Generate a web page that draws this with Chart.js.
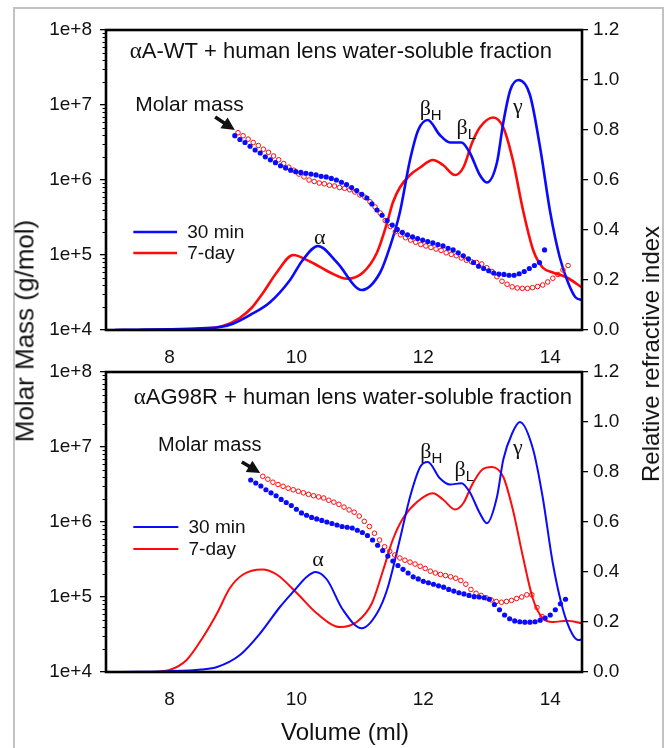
<!DOCTYPE html>
<html>
<head>
<meta charset="utf-8">
<script src="https://cdn.jsdelivr.net/npm/chart.js@4.4.1/dist/chart.umd.min.js"></script>
<style>
  body { margin: 0; background: #fff; width: 671px; height: 748px; overflow: hidden; position: relative;
         font-family: "Liberation Sans", Arial, sans-serif; color: #111; }
  #frame { position: absolute; left: 13px; top: 7px; width: 647px; height: 780px; border: 2px solid #c2c2c2; }
  canvas { position: absolute; left: 0; }
  #topChart { top: 0; }
  #botChart { top: 340px; }
  .axTitle { position: absolute; font-size: 24px; white-space: nowrap; transform: translate(-50%, -50%); }
  .rot { transform: translate(-50%, -50%) rotate(-90deg); }
</style>
</head>
<body>
<div id="frame"></div>
<canvas id="topChart" width="671" height="370"></canvas>
<canvas id="botChart" width="671" height="408"></canvas>
<div class="axTitle rot" style="left:25px; top:331px; font-size:26px">Molar Mass (g/mol)</div>
<div class="axTitle rot" style="left:651px; top:354px">Relative refractive index</div>
<div class="axTitle" style="left:345px; top:732px">Volume (ml)</div>
<script>
var BLUE = "#0a0aff", RED = "#ff0a0a";
var SANS = '"Liberation Sans", Arial, sans-serif';
var SERIF = '"Liberation Serif", "Times New Roman", serif';

// axis ticks
var volTicks = [8, 10, 12, 14];
var massTicks = [1e4, 1e5, 1e6, 1e7, 1e8];
var mmStep = 0.08; // ml between molar mass readings

// ---- top panel: aA-WT ----
// refractive index traces
var topRiVol30 = [7.14, 7.5, 8.0, 8.5, 8.8, 9.0, 9.27, 9.58, 9.9, 10.1, 10.34, 10.64, 11.03, 11.32, 11.47, 11.63, 11.79, 11.92, 12.07, 12.26, 12.42, 12.6, 12.73, 12.89, 13.0, 13.16, 13.26, 13.37, 13.5, 13.68, 13.84, 14.0, 14.15, 14.28, 14.4, 14.5];
var topRi30 = [0, 0.001, 0.003, 0.007, 0.012, 0.025, 0.06, 0.11, 0.2, 0.28, 0.336, 0.27, 0.16, 0.23, 0.33, 0.47, 0.68, 0.8, 0.84, 0.78, 0.75, 0.75, 0.71, 0.62, 0.59, 0.67, 0.83, 0.96, 1.0, 0.94, 0.73, 0.47, 0.29, 0.19, 0.13, 0.12];
var topRiVol7 = [8.04, 8.5, 8.84, 9.1, 9.3, 9.47, 9.69, 9.95, 10.22, 10.53, 10.8, 11.05, 11.27, 11.43, 11.52, 11.63, 11.79, 11.95, 12.15, 12.31, 12.5, 12.63, 12.77, 12.89, 13.1, 13.26, 13.41, 13.57, 13.73, 13.88, 14.04, 14.26, 14.5];
var topRi7 = [0, 0.005, 0.016, 0.047, 0.09, 0.147, 0.23, 0.3, 0.273, 0.23, 0.205, 0.23, 0.31, 0.43, 0.51, 0.57, 0.62, 0.65, 0.68, 0.66, 0.62, 0.65, 0.75, 0.81, 0.85, 0.81, 0.68, 0.48, 0.32, 0.25, 0.23, 0.21, 0.17];
// molar mass (g/mol)
var topMmStart30 = 9.03;
var topMm30 = [3.9e6, 3.47e6, 3.16e6, 2.82e6, 2.51e6, 2.29e6, 2.04e6, 1.86e6, 1.70e6, 1.55e6,
  1.45e6, 1.35e6, 1.29e6, 1.26e6, 1.23e6, 1.20e6, 1.17e6, 1.12e6, 1.10e6, 1.05e6,
  1.00e6, 9.33e5, 8.71e5, 7.94e5, 7.24e5, 6.46e5, 5.75e5, 4.79e5, 3.98e5, 3.39e5,
  2.88e5, 2.51e5, 2.19e5, 2.00e5, 1.86e5, 1.74e5, 1.66e5, 1.58e5, 1.51e5, 1.45e5,
  1.38e5, 1.32e5, 1.23e5, 1.17e5, 1.07e5, 9.77e4, 8.91e4, 7.94e4, 7.08e4, 6.61e4,
  6.17e4, 5.75e4, 5.56e4, 5.50e4, 5.37e4, 5.37e4, 5.62e4, 6.03e4, 6.61e4, 7.24e4,
  7.94e4, 1.17e5];
var topMmStart7 = 9.08;
var topMm7 = [4.27e6, 3.89e6, 3.51e6, 3.16e6, 2.88e6, 2.57e6, 2.34e6, 2.09e6, 1.86e6, 1.66e6,
  1.48e6, 1.35e6, 1.20e6, 1.10e6, 1.00e6, 9.55e5, 9.12e5, 8.91e5, 8.51e5, 8.32e5,
  7.94e5, 7.76e5, 7.41e5, 6.92e5, 6.31e5, 5.89e5, 5.13e5, 4.37e5, 3.63e5, 2.88e5,
  2.40e5, 2.04e5, 1.86e5, 1.70e5, 1.58e5, 1.48e5, 1.38e5, 1.32e5, 1.26e5, 1.20e5,
  1.15e5, 1.07e5, 1.02e5, 9.77e4, 9.12e4, 8.51e4, 8.13e4, 7.94e4, 7.59e4, 6.76e4,
  6.03e4, 5.13e4, 4.47e4, 4.07e4, 3.76e4, 3.63e4, 3.59e4, 3.59e4, 3.67e4, 3.80e4,
  3.98e4, 4.37e4, 4.90e4, 5.50e4, 6.31e4, 7.24e4];

// ---- bottom panel: aAG98R ----
var botRiVol30 = [7.11, 7.5, 8.0, 8.5, 8.75, 9.11, 9.43, 9.74, 9.98, 10.16, 10.3, 10.48, 10.73, 11.03, 11.27, 11.43, 11.63, 11.79, 11.95, 12.07, 12.26, 12.42, 12.6, 12.73, 12.89, 13.0, 13.16, 13.26, 13.4, 13.52, 13.73, 13.88, 14.04, 14.2, 14.34, 14.44, 14.5];
var botRi30 = [0, 0.001, 0.003, 0.01, 0.02, 0.068, 0.155, 0.26, 0.33, 0.38, 0.4, 0.37, 0.25, 0.175, 0.235, 0.33, 0.53, 0.7, 0.82, 0.84, 0.775, 0.75, 0.755, 0.72, 0.635, 0.595, 0.7, 0.85, 0.955, 1.0, 0.89, 0.7, 0.435, 0.25, 0.155, 0.128, 0.13];
var botRiVol7 = [7.72, 8.0, 8.27, 8.53, 8.75, 8.95, 9.16, 9.46, 9.69, 10.01, 10.32, 10.69, 10.95, 11.19, 11.37, 11.52, 11.68, 11.9, 12.15, 12.31, 12.5, 12.63, 12.77, 12.93, 13.08, 13.26, 13.41, 13.57, 13.73, 13.88, 14.04, 14.26, 14.5];
var botRi7 = [0, 0.008, 0.048, 0.14, 0.235, 0.335, 0.39, 0.41, 0.39, 0.315, 0.235, 0.18, 0.2, 0.275, 0.41, 0.53, 0.615, 0.68, 0.715, 0.69, 0.65, 0.675, 0.75, 0.81, 0.82, 0.78, 0.65, 0.46, 0.29, 0.215, 0.2, 0.205, 0.195];
var botMmStart30 = 9.28;
var botMm30 = [3.63e6, 3.31e6, 3.02e6, 2.69e6, 2.45e6, 2.24e6, 2.00e6, 1.82e6, 1.66e6, 1.48e6,
  1.32e6, 1.23e6, 1.15e6, 1.10e6, 1.05e6, 1.00e6, 9.55e5, 9.12e5, 8.71e5, 8.51e5,
  8.32e5, 7.76e5, 7.24e5, 6.61e5, 5.75e5, 4.90e5, 4.17e5, 3.51e5, 3.02e5, 2.63e5,
  2.34e5, 2.09e5, 1.86e5, 1.74e5, 1.62e5, 1.55e5, 1.48e5, 1.41e5, 1.35e5, 1.26e5,
  1.20e5, 1.14e5, 1.10e5, 1.05e5, 1.01e5, 1.00e5, 9.77e4, 9.33e4, 7.94e4, 6.76e4,
  5.75e4, 5.13e4, 4.79e4, 4.68e4, 4.62e4, 4.62e4, 4.68e4, 4.90e4, 5.25e4, 5.75e4,
  6.76e4, 8.13e4, 9.33e4];
var botMmStart7 = 9.47;
var botMm7 = [4.07e6, 3.72e6, 3.39e6, 3.16e6, 2.99e6, 2.82e6, 2.69e6, 2.57e6, 2.45e6, 2.34e6,
  2.24e6, 2.16e6, 2.09e6, 1.95e6, 1.84e6, 1.72e6, 1.58e6, 1.45e6, 1.35e6, 1.20e6,
  1.02e6, 8.71e5, 7.08e5, 5.75e5, 4.68e5, 4.07e5, 3.63e5, 3.31e5, 3.09e5, 2.92e5,
  2.75e5, 2.57e5, 2.40e5, 2.21e5, 2.09e5, 2.00e5, 1.93e5, 1.86e5, 1.78e5, 1.66e5,
  1.48e5, 1.26e5, 1.12e5, 1.05e5, 9.77e4, 9.12e4, 8.71e4, 8.51e4, 8.71e4, 9.02e4,
  9.55e4, 1.00e5, 1.07e5, 1.07e5, 7.24e4, 5.50e4];

function pairs(xs, ys) {
	return xs.map(function (x, i) { return { x: x, y: ys[i] }; });
}
function readings(start, vals) {
	return vals.map(function (v, i) { return { x: start + i * mmStep, y: v }; });
}

// text, arrows and the key, placed in volume / refractive-index units
function drawNotes(chart, notes) {
	var ctx = chart.ctx, xs = chart.scales.x, ys = chart.scales.ri;
	notes.forEach(function (n) {
		ctx.fillStyle = "#111";
		ctx.strokeStyle = "#111";
		ctx.textBaseline = "middle";
		ctx.textAlign = "left";
		if (n.kind === "text") {
			var px = xs.getPixelForValue(n.x), py = ys.getPixelForValue(n.y);
			var widths = n.parts.map(function (p) { ctx.font = p.f; return ctx.measureText(p.t).width; });
			var total = widths.reduce(function (a, b) { return a + b; }, 0);
			var cx = px;
			if (n.align === "center") cx = px - total / 2;
			if (n.align === "first") cx = px - widths[0] / 2;
			n.parts.forEach(function (p, i) {
				ctx.font = p.f;
				ctx.fillText(p.t, cx, py + (p.dy || 0));
				cx += widths[i];
			});
		} else if (n.kind === "arrow") {
			var x0 = xs.getPixelForValue(n.x0), y0 = ys.getPixelForValue(n.y0);
			var x1 = xs.getPixelForValue(n.x1), y1 = ys.getPixelForValue(n.y1);
			var ang = Math.atan2(y1 - y0, x1 - x0), head = 13, half = 6.5;
			ctx.lineWidth = 3.5;
			ctx.beginPath();
			ctx.moveTo(x0, y0);
			ctx.lineTo(x1 - Math.cos(ang) * (head - 2), y1 - Math.sin(ang) * (head - 2));
			ctx.stroke();
			ctx.beginPath();
			ctx.moveTo(x1, y1);
			ctx.lineTo(x1 - Math.cos(ang) * head - Math.sin(ang) * half, y1 - Math.sin(ang) * head + Math.cos(ang) * half);
			ctx.lineTo(x1 - Math.cos(ang) * head + Math.sin(ang) * half, y1 - Math.sin(ang) * head - Math.cos(ang) * half);
			ctx.closePath();
			ctx.fill();
		} else if (n.kind === "key") {
			var ky = ys.getPixelForValue(n.y);
			ctx.strokeStyle = n.color;
			ctx.lineWidth = n.lw;
			ctx.beginPath();
			ctx.moveTo(xs.getPixelForValue(n.x0), ky);
			ctx.lineTo(xs.getPixelForValue(n.x1), ky);
			ctx.stroke();
			ctx.font = "19px " + SANS;
			ctx.fillText(n.label, xs.getPixelForValue(n.tx), ky + 1);
		}
	});
}

function framePlugin(notes) {
	return {
		id: "frameNotes",
		afterDatasetsDraw: function (chart) {
			var ctx = chart.ctx, a = chart.chartArea, mm = chart.scales.mm;
			ctx.save();
			// minor log ticks on the molar mass axis
			ctx.strokeStyle = "#000";
			ctx.lineWidth = 1;
			for (var d = 4; d < 8; d++) {
				for (var m = 2; m < 10; m++) {
					var y = Math.round(mm.getPixelForValue(m * Math.pow(10, d))) + 0.5;
					ctx.beginPath();
					ctx.moveTo(a.left - 3.5, y);
					ctx.lineTo(a.left, y);
					ctx.stroke();
				}
			}
			ctx.lineWidth = 2.6;
			ctx.strokeRect(a.left, a.top, a.right - a.left, a.bottom - a.top);
			drawNotes(chart, notes);
			ctx.restore();
		}
	};
}

function greek(x, y, g, sub) {
	var parts = [{ t: g, f: "22px " + SERIF }];
	if (sub) parts.push({ t: sub, f: "15px " + SANS, dy: 7 });
	return { kind: "text", x: x, y: y, parts: parts, align: "first" };
}

function buildChart(id, p) {
	return new Chart(document.getElementById(id), {
		type: "line",
		data: {
			datasets: [
				{ label: "30 min", data: pairs(p.riVol30, p.ri30), yAxisID: "ri", borderColor: BLUE, borderWidth: p.lw,
				  pointRadius: 0, cubicInterpolationMode: "monotone", order: 2 },
				{ label: "7-day", data: pairs(p.riVol7, p.ri7), yAxisID: "ri", borderColor: RED, borderWidth: p.lw,
				  pointRadius: 0, cubicInterpolationMode: "monotone", order: 2 },
				{ label: "Molar mass, 30 min", data: readings(p.mmStart30, p.mm30), yAxisID: "mm", showLine: false,
				  pointRadius: 2.6, pointBackgroundColor: BLUE, pointBorderWidth: 0, order: 1 },
				{ label: "Molar mass, 7-day", data: readings(p.mmStart7, p.mm7), yAxisID: "mm", showLine: false,
				  pointRadius: 2.3, pointBackgroundColor: "rgba(0,0,0,0)", pointBorderColor: RED, pointBorderWidth: 1, order: 1 }
			]
		},
		options: {
			responsive: false,
			animation: false,
			devicePixelRatio: 1,
			layout: { padding: { top: p.padTop, left: 0, right: 0, bottom: 0 } },
			plugins: { legend: { display: false }, tooltip: { enabled: false } },
			scales: {
				x: {
					type: "linear", min: 7, max: 14.5,
					afterBuildTicks: function (s) { s.ticks = volTicks.map(function (v) { return { value: v }; }); },
					afterFit: function (s) { s.height = p.xAxisH; },
					grid: { display: false }, border: { display: false },
					ticks: { font: { family: SANS, size: 19 }, color: "#111", padding: 8, maxRotation: 0 }
				},
				mm: {
					type: "logarithmic", position: "left", min: 1e4, max: 1e8,
					afterBuildTicks: function (s) { s.ticks = massTicks.map(function (v) { return { value: v, major: true }; }); },
					afterFit: function (s) { s.width = 106; },
					grid: { drawOnChartArea: false, tickLength: 6, color: "#000", lineWidth: 1.3 },
					border: { display: false },
					ticks: { font: { family: SANS, size: 19 }, color: "#111", padding: 8,
						callback: function (v) { return Number(v).toExponential(0); } }
				},
				ri: {
					type: "linear", position: "right", min: 0, max: 1.2,
					afterFit: function (s) { s.width = 89; },
					grid: { drawOnChartArea: false, tickLength: 6, color: "#000", lineWidth: 1.3 },
					border: { display: false },
					ticks: { stepSize: 0.2, font: { family: SANS, size: 19 }, color: "#111", padding: 5,
						callback: function (v) { return Number(v).toFixed(1); } }
				}
			}
		},
		plugins: [framePlugin(p.notes)]
	});
}

buildChart("topChart", {
	riVol30: topRiVol30, ri30: topRi30, riVol7: topRiVol7, ri7: topRi7,
	mmStart30: topMmStart30, mm30: topMm30, mmStart7: topMmStart7, mm7: topMm7,
	lw: 2.6, padTop: 30, xAxisH: 40,
	notes: [
		{ kind: "text", x: 10.70, y: 1.112, align: "center",
		  parts: [{ t: "\u03b1", f: "23px " + SERIF }, { t: "A-WT + human lens water-soluble fraction", f: "22px " + SANS }] },
		{ kind: "text", x: 7.46, y: 0.9, align: "left", parts: [{ t: "Molar mass", f: "21px " + SANS }] },
		{ kind: "arrow", x0: 8.72, y0: 0.852, x1: 9.03, y1: 0.8 },
		{ kind: "key", x0: 7.43, x1: 8.12, y: 0.392, tx: 8.28, color: BLUE, lw: 2.6, label: "30 min" },
		{ kind: "key", x0: 7.43, x1: 8.12, y: 0.308, tx: 8.28, color: RED, lw: 2.6, label: "7-day" },
		greek(10.37, 0.368, "\u03b1"),
		greek(12.03, 0.884, "\u03b2", "H"),
		greek(12.61, 0.808, "\u03b2", "L"),
		greek(13.49, 0.892, "\u03b3")
	]
});

buildChart("botChart", {
	riVol30: botRiVol30, ri30: botRi30, riVol7: botRiVol7, ri7: botRi7,
	mmStart30: botMmStart30, mm30: botMm30, mmStart7: botMmStart7, mm7: botMm7,
	lw: 2, padTop: 32, xAxisH: 76,
	notes: [
		{ kind: "text", x: 10.89, y: 1.096, align: "center",
		  parts: [{ t: "\u03b1", f: "23px " + SERIF }, { t: "AG98R + human lens water-soluble fraction", f: "22px " + SANS }] },
		{ kind: "text", x: 7.82, y: 0.908, align: "left", parts: [{ t: "Molar mass", f: "20px " + SANS }] },
		{ kind: "arrow", x0: 9.14, y0: 0.84, x1: 9.43, y1: 0.796 },
		{ kind: "key", x0: 7.43, x1: 8.14, y: 0.58, tx: 8.3, color: BLUE, lw: 2, label: "30 min" },
		{ kind: "key", x0: 7.43, x1: 8.14, y: 0.492, tx: 8.3, color: RED, lw: 2, label: "7-day" },
		greek(10.34, 0.448, "\u03b1"),
		greek(12.04, 0.88, "\u03b2", "H"),
		greek(12.58, 0.808, "\u03b2", "L"),
		greek(13.49, 0.896, "\u03b3")
	]
});
</script>
</body>
</html>
